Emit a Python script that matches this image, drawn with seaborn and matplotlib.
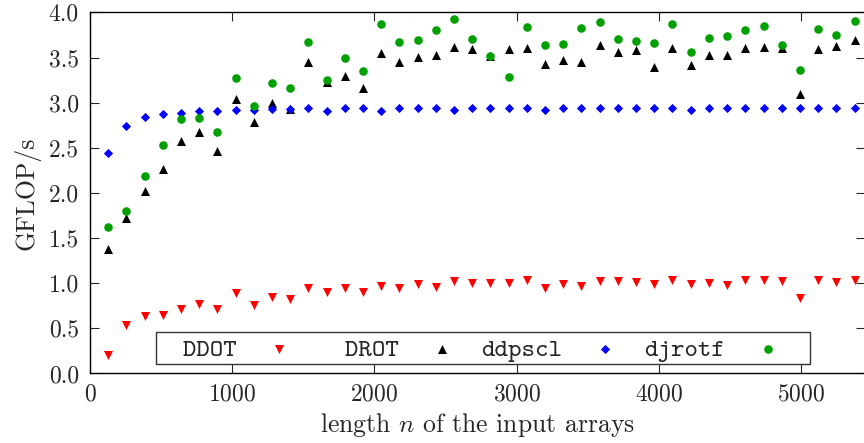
import matplotlib
matplotlib.use('Agg')
import matplotlib.pyplot as plt
from matplotlib.patches import Rectangle
import seaborn as sns
import pandas as pd
import numpy as np

# 数据
n_values = [128 * k for k in range(1, 43)]

ddot = [0.20, 0.54, 0.64, 0.65, 0.71, 0.77, 0.71, 0.89, 0.76, 0.85, 0.83, 0.95, 0.90, 0.95,
        0.90, 0.97, 0.95, 0.99, 0.96, 1.02, 1.00, 1.00, 1.00, 1.04, 0.95, 0.99, 0.97, 1.02,
        1.02, 1.01, 0.99, 1.03, 0.99, 1.00, 0.98, 1.03, 1.03, 1.02, 0.84, 1.03, 1.01, 1.03]
drot = [1.38, 1.72, 2.02, 2.26, 2.57, 2.67, 2.47, 3.04, 2.79, 3.00, 2.93, 3.45, 3.23, 3.29,
        3.16, 3.55, 3.45, 3.51, 3.53, 3.62, 3.59, 3.52, 3.59, 3.61, 3.43, 3.47, 3.45, 3.64,
        3.56, 3.58, 3.39, 3.61, 3.42, 3.53, 3.53, 3.61, 3.62, 3.61, 3.10, 3.60, 3.63, 3.69]
ddpscl = [2.44, 2.74, 2.84, 2.87, 2.88, 2.91, 2.91, 2.92, 2.92, 2.93, 2.93, 2.94, 2.91, 2.94,
          2.94, 2.91, 2.94, 2.94, 2.94, 2.92, 2.94, 2.94, 2.94, 2.94, 2.92, 2.94, 2.94, 2.94,
          2.94, 2.94, 2.94, 2.94, 2.92, 2.94, 2.94, 2.94, 2.94, 2.94, 2.94, 2.94, 2.94, 2.94]
djrotf = [1.62, 1.80, 2.19, 2.53, 2.82, 2.83, 2.67, 3.27, 2.96, 3.22, 3.16, 3.67, 3.25, 3.49,
          3.35, 3.87, 3.67, 3.69, 3.81, 3.93, 3.71, 3.52, 3.28, 3.84, 3.64, 3.65, 3.83, 3.89,
          3.71, 3.68, 3.66, 3.87, 3.56, 3.72, 3.74, 3.81, 3.85, 3.64, 3.36, 3.82, 3.75, 3.91]

series_names = ['DDOT', 'DROT', 'ddpscl', 'djrotf']
series_values = [ddot, drot, ddpscl, djrotf]

data = pd.DataFrame({
    'n': np.tile(n_values, len(series_names)),
    'gflops': np.concatenate(series_values),
    'routine': np.repeat(series_names, len(n_values)),
})

# 绘图风格
sns.set_style("ticks")
plt.rcParams['font.family'] = ['cmr10', 'DejaVu Serif']
plt.rcParams['mathtext.fontset'] = 'cm'
plt.rcParams['axes.formatter.use_mathtext'] = True

palette = {'DDOT': '#ff0000', 'DROT': '#000000', 'ddpscl': '#0000ff', 'djrotf': '#00a000'}
markers = {'DDOT': 'v', 'DROT': '^', 'ddpscl': 'D', 'djrotf': 'o'}
sizes = {'DDOT': 42, 'DROT': 42, 'ddpscl': 22, 'djrotf': 38}

fig = plt.figure(figsize=(8.64, 4.43), dpi=100)
ax = fig.add_axes([0.1042, 0.157, 0.897, 0.815])

for name in series_names:
    sub = data[data['routine'] == name]
    sns.scatterplot(data=sub, x='n', y='gflops', color=palette[name],
                    marker=markers[name], s=sizes[name], linewidth=0,
                    label=name, ax=ax)

ax.set_xlim(0, 5450)
ax.set_ylim(0, 4.0)
ax.set_xticks(np.arange(0, 5001, 1000))
ax.set_yticks(np.arange(0, 4.01, 0.5))
ax.set_yticklabels([f'{v:.1f}' for v in np.arange(0, 4.01, 0.5)])
ax.tick_params(direction='in', top=True, right=True, length=6.5, width=0.8,
               labelsize=17)
ax.tick_params(axis='y', pad=8)
ax.tick_params(axis='x', pad=7)
for sp in ax.spines.values():
    sp.set_color('black')
    sp.set_linewidth(1.0)

ax.set_xlabel('length $n$ of the input arrays', fontsize=18.5, labelpad=4)
ax.set_ylabel('GFLOP/s', fontsize=18.5, labelpad=6)

# 图例：文字右对齐在前，标记在后（gnuplot 风格），外框单独画
handles, labels = ax.get_legend_handles_labels()
ax.legend_.remove()
labels = [lab.rjust(6) for lab in labels]
frame = Rectangle((0.0855, 0.0251), 0.8433, 0.0891, transform=ax.transAxes,
                  facecolor='white', edgecolor='#333333', linewidth=1.0, zorder=5)
ax.add_patch(frame)
leg = ax.legend(handles, labels, ncol=4, markerfirst=False, loc='center left',
                bbox_to_anchor=(0.0848, 0.066), frameon=False,
                borderpad=0, borderaxespad=0, handlelength=1.0,
                handletextpad=1.15, columnspacing=1.04,
                prop={'family': ['cmtt10', 'DejaVu Sans Mono'], 'size': 18.5})
leg.set_zorder(6)

fig.savefig('out.png', dpi=100)
